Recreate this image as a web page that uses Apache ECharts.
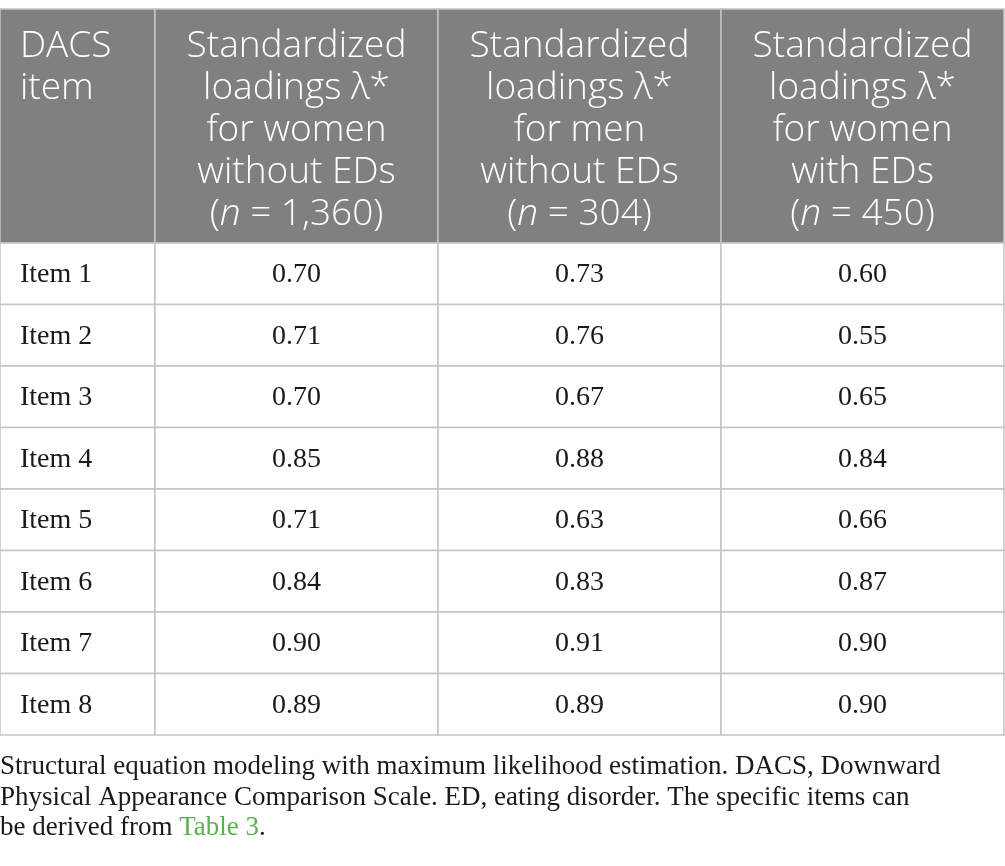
<!DOCTYPE html>
<html>
<head>
<meta charset="utf-8">
<script src="https://cdn.jsdelivr.net/npm/echarts@6/dist/echarts.min.js"></script>
<style>
  html, body { margin: 0; padding: 0; background: #fff; }
  #main { width: 1005px; height: 866px; }
</style>
</head>
<body>
<div id="main"></div>
<script>
var headers = [
    'DACS\nitem',
    'Standardized\nloadings \u03bb*\nfor women\nwithout EDs\n({i|n} = 1,360)',
    'Standardized\nloadings \u03bb*\nfor men\nwithout EDs\n({i|n} = 304)',
    'Standardized\nloadings \u03bb*\nfor women\nwith EDs\n({i|n} = 450)'
];
var items = ['Item 1', 'Item 2', 'Item 3', 'Item 4', 'Item 5', 'Item 6', 'Item 7', 'Item 8'];
var womenNoED = [0.70, 0.71, 0.70, 0.85, 0.71, 0.84, 0.90, 0.89];
var menNoED = [0.73, 0.76, 0.67, 0.88, 0.63, 0.83, 0.91, 0.89];
var womenED = [0.60, 0.55, 0.65, 0.84, 0.66, 0.87, 0.90, 0.90];
var note = 'Structural equation modeling with maximum likelihood estimation. DACS, Downward\n' +
    'Physical Appearance Comparison Scale. ED, eating disorder. The specific items can\n' +
    'be derived from {link|Table 3}.';

// column edges in x-axis units (layout only)
var colEdges = [0, 155, 438, 721, 1004];
var border = '#c4c4c4';

var bodyData = [];
items.forEach(function (name, r) {
    bodyData.push([0, r, name]);
    bodyData.push([1, r, womenNoED[r].toFixed(2)]);
    bodyData.push([2, r, menNoED[r].toFixed(2)]);
    bodyData.push([3, r, womenED[r].toFixed(2)]);
});
var headData = headers.map(function (h, c) { return [c, 0, h]; });

function cellItem(params, api, isHead) {
    var c = api.value(0);
    var r = api.value(1);
    var text = (isHead ? headData : bodyData)[params.dataIndex][2];
    var p0 = api.coord([colEdges[c], r]);
    var p1 = api.coord([colEdges[c + 1], r]);
    var h = api.size([0, 1])[1];
    var x0 = p0[0], x1 = p1[0], y0 = p0[1] - h / 2;
    var left = c === 0;
    return {
        type: 'group',
        children: [{
            type: 'rect',
            shape: { x: x0, y: y0, width: x1 - x0, height: h },
            style: { fill: isHead ? '#7f807f' : '#fff', stroke: border, lineWidth: 1.5 }
        }, {
            type: 'text',
            x: left ? x0 + 20 : (x0 + x1) / 2,
            y: isHead ? y0 + 17 : y0 + h / 2 + 1,
            style: isHead ? {
                text: text,
                fill: '#fff',
                font: '300 37px "Open Sans"',
                lineHeight: 41.8,
                align: left ? 'left' : 'center',
                verticalAlign: 'top',
                rich: { i: { fontStyle: 'italic', fontWeight: 300, fontFamily: 'Open Sans', fontSize: 37, fill: '#fff', lineHeight: 41.8 } }
            } : {
                text: text,
                fill: '#1a1a1a',
                font: '28px "Liberation Serif"',
                align: left ? 'left' : 'center',
                verticalAlign: 'middle'
            }
        }]
    };
}

var chart = echarts.init(document.getElementById('main'));
chart.setOption({
    animation: false,
    grid: [
        { left: 0, right: 1, top: 9, height: 234 },
        { left: 0, right: 1, top: 243, height: 492 }
    ],
    xAxis: [
        { gridIndex: 0, type: 'value', min: 0, max: 1004, show: false },
        { gridIndex: 1, type: 'value', min: 0, max: 1004, show: false }
    ],
    yAxis: [
        { gridIndex: 0, type: 'category', data: ['head'], show: false },
        { gridIndex: 1, type: 'category', data: items, inverse: true, show: false }
    ],
    series: [{
        type: 'custom',
        xAxisIndex: 0,
        yAxisIndex: 0,
        data: headData.map(function (d) { return [d[0], d[1]]; }),
        renderItem: function (params, api) { return cellItem(params, api, true); }
    }, {
        type: 'custom',
        xAxisIndex: 1,
        yAxisIndex: 1,
        data: bodyData.map(function (d) { return [d[0], d[1]]; }),
        renderItem: function (params, api) { return cellItem(params, api, false); }
    }],
    graphic: [{
        type: 'text',
        left: 0,
        top: 752,
        style: {
            text: note,
            fill: '#1a1a1a',
            font: '27px "Liberation Serif"',
            lineHeight: 30.5,
            rich: { link: { fill: '#5bb04f', fontFamily: 'Liberation Serif', fontSize: 27, lineHeight: 30.5 } }
        }
    }]
});
</script>
</body>
</html>
